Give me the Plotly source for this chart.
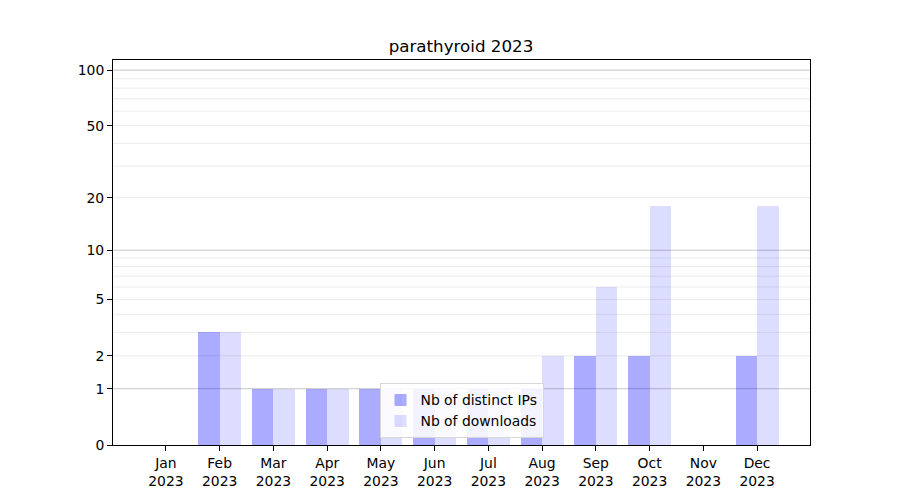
import math
import plotly.graph_objects as go

months = ["Jan<br>2023", "Feb<br>2023", "Mar<br>2023", "Apr<br>2023", "May<br>2023", "Jun<br>2023",
          "Jul<br>2023", "Aug<br>2023", "Sep<br>2023", "Oct<br>2023", "Nov<br>2023", "Dec<br>2023"]
distinct_ips = [0, 3, 1, 1, 1, 1, 1, 1, 2, 2, 0, 2]
downloads = [0, 3, 1, 1, 1, 1, 1, 2, 6, 18, 0, 18]
y_ticks = [0, 1, 2, 5, 10, 20, 50, 100]
major_grid = [1, 10, 100]
minor_grid = [2, 3, 4, 5, 6, 7, 8, 9, 20, 30, 40, 50, 60, 70, 80, 90]


def tr(v):
    return math.log10(1 + v)


xs = list(range(len(months)))
fig = go.Figure()
fig.add_trace(go.Bar(x=[x - 0.2 for x in xs], y=[tr(v) for v in distinct_ips], width=0.4,
                     name="Nb of distinct IPs", marker=dict(color="rgba(0,0,255,0.33)", line=dict(width=0)),
                     customdata=distinct_ips, hovertemplate="%{customdata}<extra></extra>"))
fig.add_trace(go.Bar(x=[x + 0.2 for x in xs], y=[tr(v) for v in downloads], width=0.4,
                     name="Nb of downloads", marker=dict(color="rgba(0,0,255,0.135)", line=dict(width=0)),
                     customdata=downloads, hovertemplate="%{customdata}<extra></extra>"))

shapes = []
for v in minor_grid:
    shapes.append(dict(type="line", xref="paper", yref="y", x0=0, x1=1, y0=tr(v), y1=tr(v),
                       line=dict(color="rgb(236,236,236)", width=1), layer="below"))
for v in major_grid:
    shapes.append(dict(type="line", xref="paper", yref="y", x0=0, x1=1, y0=tr(v), y1=tr(v),
                       line=dict(color="rgb(200,200,200)", width=1), layer="below"))

fig.update_layout(
    width=900, height=500,
    paper_bgcolor="white", plot_bgcolor="white",
    margin=dict(l=105, r=98, t=52, b=63),
    font=dict(family="DejaVu Sans", size=13.9, color="black"),
    title=dict(text="parathyroid 2023", x=0.5033, xanchor="center", y=0.924, yanchor="middle",
               font=dict(size=16.7)),
    barmode="overlay",
    bargap=0,
    shapes=shapes,
    showlegend=True,
    legend=dict(x=0.5, xanchor="center", y=0.017, yanchor="bottom",
                bgcolor="rgba(255,255,255,0.85)", bordercolor="rgb(215,215,215)", borderwidth=1,
                font=dict(size=13.9), tracegroupgap=0, itemwidth=30),
    xaxis=dict(range=[-0.985, 11.985], tickmode="array", tickvals=xs, ticktext=months,
               showgrid=False, zeroline=False, showline=True, linecolor="black", linewidth=1,
               mirror=True, ticks="outside", ticklen=5, tickcolor="black"),
    yaxis=dict(range=[0, tr(113.5)], tickmode="array", tickvals=[tr(v) for v in y_ticks],
               ticktext=[str(v) for v in y_ticks], showgrid=False, zeroline=False,
               showline=True, linecolor="black", linewidth=1, mirror=True,
               ticks="outside", ticklen=5, tickcolor="black"),
)
fig.write_html("out.html")
